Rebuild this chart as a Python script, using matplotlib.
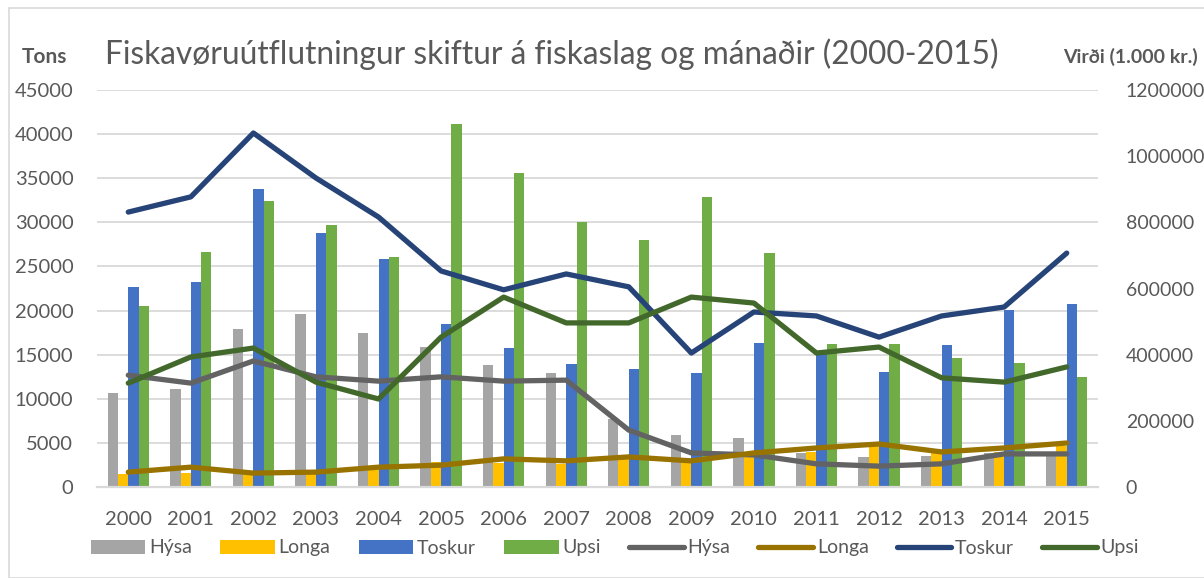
import matplotlib
matplotlib.use('Agg')
import matplotlib.pyplot as plt
from matplotlib.ticker import FormatStrFormatter
import numpy as np

plt.rcParams['font.family'] = ['Lato', 'DejaVu Sans']

YEARS = [str(y) for y in range(2000, 2016)]

# tons (bars, left axis)
HYSA_T = [10600, 11100, 17900, 19600, 17500, 15900, 13800, 12900,
          7700, 5900, 5600, 3800, 3400, 3500, 3800, 3700]
LONGA_T = [1500, 1600, 1500, 1700, 2000, 2800, 2700, 2600,
           3300, 2800, 4000, 4000, 4600, 3800, 4000, 4600]
TOSKUR_T = [22700, 23200, 33800, 28800, 25900, 18500, 15800, 13900,
            13400, 12900, 16300, 15200, 13000, 16100, 20100, 20700]
UPSI_T = [20500, 26600, 32400, 29700, 26100, 41200, 35600, 30000,
          28000, 32900, 26500, 16200, 16200, 14600, 14100, 12500]

# value in 1.000 kr. (lines, right axis)
HYSA_V = [338000, 314000, 381000, 333000, 320000, 333000, 320000, 323000,
          172000, 103000, 97000, 70000, 63000, 70000, 100000, 100000]
LONGA_V = [45000, 60000, 42000, 45000, 60000, 66000, 85000, 79000,
           91000, 79000, 103000, 118000, 130000, 106000, 118000, 133000]
TOSKUR_V = [831000, 877000, 1070000, 934000, 816000, 653000, 596000, 644000,
            605000, 405000, 529000, 517000, 453000, 517000, 544000, 707000]
UPSI_V = [314000, 393000, 420000, 317000, 266000, 453000, 574000, 496000,
          496000, 574000, 556000, 405000, 423000, 330000, 317000, 363000]

BAR_COLORS = ['#a5a5a5', '#ffc000', '#4472c4', '#70ad47']
LINE_COLORS = ['#636363', '#997300', '#264478', '#43682b']
NAMES = ['Hýsa', 'Longa', 'Toskur', 'Upsi']
TXT = '#595959'

fig = plt.figure(figsize=(12.04, 5.78), dpi=100)
fig.patches.append(plt.Rectangle((9 / 1204, 0), 1.0, 1 - 8 / 578, transform=fig.transFigure,
                                 fill=False, edgecolor='#d9d9d9', linewidth=1.2))

ax = fig.add_axes([97 / 1204, 91 / 578, 1001 / 1204, 397 / 578])
ax2 = ax.twinx()

x = np.arange(len(YEARS))
w = 0.165
handles = []
for i, (vals, c, n) in enumerate(zip([HYSA_T, LONGA_T, TOSKUR_T, UPSI_T], BAR_COLORS, NAMES)):
    b = ax.bar(x + (i - 1.5) * w, vals, w, color=c, label=n, zorder=2)
    handles.append(b)

for vals, c, n in zip([HYSA_V, LONGA_V, TOSKUR_V, UPSI_V], LINE_COLORS, NAMES):
    l, = ax2.plot(x, vals, color=c, lw=3.8, label=n, solid_capstyle='round')
    handles.append(l)

ax.set_xlim(-0.5, len(YEARS) - 0.5)
ax.set_ylim(0, 45000)
ax.set_yticks(range(0, 45001, 5000))
ax2.set_ylim(0, 1200000)
ax2.set_yticks(range(0, 1200001, 200000))
ax2.yaxis.set_major_formatter(FormatStrFormatter('%d'))
ax.set_xticks(x)
ax.set_xticklabels(YEARS)

ax.grid(axis='y', color='#d9d9d9', lw=1.3, zorder=0)
ax.set_axisbelow(True)
for a in (ax, ax2):
    for s in a.spines.values():
        s.set_visible(False)
ax.spines['bottom'].set_visible(True)
ax.spines['bottom'].set_color('#d9d9d9')
ax.spines['bottom'].set_linewidth(1.6)

ax.tick_params(axis='both', length=0, labelsize=14.5, labelcolor=TXT)
ax.tick_params(axis='x', pad=17)
ax.tick_params(axis='y', pad=17)
ax2.tick_params(axis='y', length=0, labelsize=14, labelcolor=TXT, pad=20)

fig.text(22 / 1204, 1 - 57 / 578, 'Tons', fontsize=15, fontweight='bold', color=TXT, va='center')
fig.text(1063 / 1204, 1 - 57 / 578, 'Virði (1.000 kr.)', fontsize=14, fontweight='bold',
         color=TXT, va='center')
fig.text(105 / 1204, 1 - 54 / 578, 'Fiskavøruútflutningur skiftur á fiskaslag og mánaðir (2000-2015)',
         fontsize=22.8, color=TXT, va='center')

leg = fig.legend(handles=handles, labels=NAMES * 2, loc='center', ncol=8,
                 bbox_to_anchor=(615 / 1204, 1 - 548 / 578), frameon=False,
                 fontsize=14, handlelength=2.8, handletextpad=0.2, columnspacing=1.45,
                 labelcolor=TXT)

fig.savefig('out.png', dpi=100)
